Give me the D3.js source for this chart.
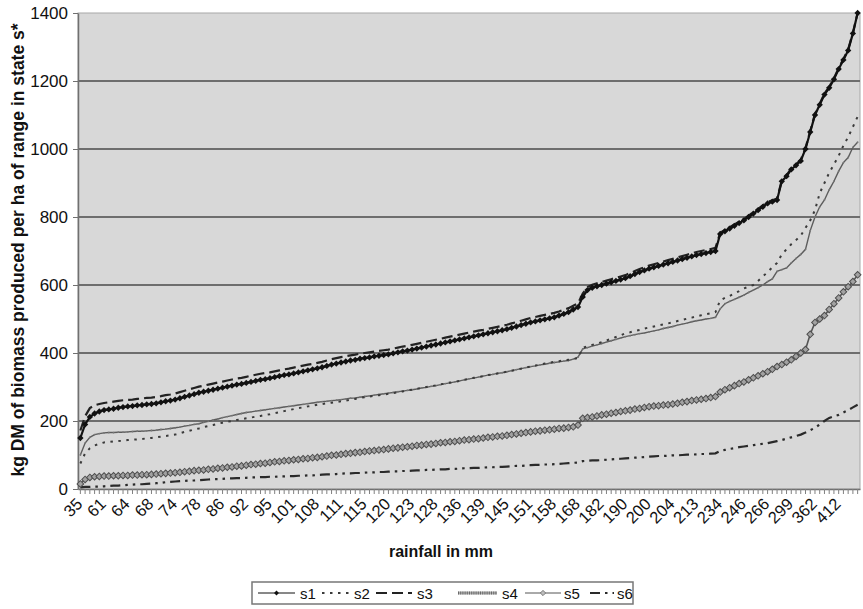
<!DOCTYPE html>
<html>
<head>
<meta charset="utf-8">
<script src="https://cdn.jsdelivr.net/npm/d3@7"></script>
<style>
  body { margin: 0; background: #fff; }
  svg { display: block; }
  text { font-family: "Liberation Sans", Arial, sans-serif; fill: #111; }
</style>
</head>
<body>
<svg id="chart" width="863" height="609"></svg>
<script>
// Rainfall (mm) shown on every 5th category of the sorted rainfall axis
const rainfallLabels = [35, 61, 64, 68, 74, 78, 86, 92, 95, 101, 108, 111, 115, 120, 123, 128,
  136, 139, 145, 151, 158, 168, 182, 190, 200, 204, 213, 234, 246, 266, 299, 362, 412];
const labelEvery = 5;
const yTicks = [0, 200, 400, 600, 800, 1000, 1200, 1400];
const seriesNames = ["s1", "s2", "s3", "s4", "s5", "s6"];

// kg DM of biomass per ha, one value per rainfall category
const s1 = [150,190,212,222,228, 232,234,236,239,241, 243,244,246,247,249, 250,252,255,258,260,
  263,267,271,275,279, 283,286,289,292,295, 298,301,304,307,309, 312,315,318,321,323,
  326,329,332,335,337, 340,343,346,349,352, 355,358,362,366,369, 372,375,378,380,383,
  385,387,390,392,394, 396,399,402,405,407, 410,413,416,419,422, 425,428,431,434,437,
  440,443,446,449,452, 455,458,461,464,467, 470,474,478,482,486, 490,493,496,499,502,
  505,510,515,520,528, 535,565,585,592,596, 600,604,608,612,616, 620,626,632,638,643,
  648,652,656,660,664, 668,672,676,680,684, 688,691,694,697,700, 750,758,766,774,782,
  790,800,810,820,830, 840,845,850,905,920, 940,952,965,1000,1050, 1100,1130,1160,1180,1205,
  1235,1262,1290,1340,1400];
const s2 = [75,105,120,128,133, 137,138,140,141,142, 144,145,146,147,149, 150,152,154,156,158,
  160,164,168,171,175, 178,182,185,188,192, 195,198,200,203,205, 208,210,213,215,218,
  220,223,226,229,232, 235,238,240,243,245, 248,250,252,254,256, 258,260,263,265,268,
  270,272,274,276,278, 280,282,285,287,290, 292,295,297,300,302, 305,308,310,313,315,
  318,321,324,327,329, 332,335,337,340,342, 345,348,351,354,357, 360,363,366,369,371,
  374,376,378,380,382, 385,415,420,424,428, 432,437,442,447,452, 458,461,465,468,472,
  475,478,481,484,487, 490,494,497,501,504, 508,511,514,517,520, 555,562,568,575,582,
  590,595,600,612,625, 638,652,665,690,705, 720,732,745,768,790, 820,870,900,930,955,
  980,1010,1035,1065,1095];
const s3 = [172,214,238,246,250, 253,255,257,259,261, 262,263,265,266,268, 269,271,273,276,278,
  281,285,289,293,297, 301,304,307,310,313, 316,319,322,325,327, 330,333,336,339,341,
  343,346,349,352,354, 357,360,363,366,368, 371,374,378,382,385, 388,391,393,395,398,
  400,402,404,406,408, 410,413,416,419,421, 424,427,430,433,436, 439,442,445,448,451,
  454,457,460,463,466, 468,471,474,477,480, 483,487,491,495,499, 503,506,509,512,515,
  518,522,527,532,539, 546,575,594,601,605, 609,613,617,621,625, 629,635,641,647,652,
  657,661,665,669,673, 677,681,685,689,693, 697,700,703,706,709, 754,762,770,778,786,
  794,804,814,824,834, 844,849,854,908,923, 943,955,968,1003,1053, 1103,1133,1163,1183,1208,
  1238,1265,1293,1342,1400];
const s4 = [100,135,152,160,163, 165,166,166,167,167, 168,169,170,170,171, 172,173,175,176,178,
  180,182,185,187,190, 192,196,199,203,206, 210,213,216,219,222, 225,227,229,231,233,
  235,237,239,241,243, 245,247,249,251,253, 255,257,258,260,261, 263,265,267,268,270,
  272,274,276,278,280, 282,284,286,288,290, 292,294,297,299,302, 304,307,310,312,315,
  318,321,324,326,329, 332,335,337,340,342, 345,348,351,354,357, 360,362,365,367,370,
  372,374,376,378,382, 388,412,416,420,424, 428,432,436,440,444, 448,451,454,457,459,
  462,465,468,472,475, 478,482,485,488,492, 495,497,500,502,505, 530,545,552,558,564,
  570,578,585,592,600, 610,618,640,645,650, 665,678,690,705,760, 800,830,850,880,905,
  935,960,975,1005,1020];
const s5 = [15,28,34,36,37, 38,38,39,39,40, 40,41,41,42,42, 43,44,45,46,47,
  48,49,51,52,54, 55,56,58,59,61, 62,64,65,67,68, 70,72,73,75,76,
  78,80,81,83,84, 86,87,89,90,92, 93,95,97,99,100, 102,104,105,107,108,
  110,112,113,115,116, 118,120,121,123,124, 126,128,129,131,132, 134,136,137,139,140,
  142,144,145,147,148, 150,152,153,155,156, 158,160,162,164,166, 168,170,171,173,174,
  176,178,179,181,183, 188,208,210,212,215, 218,220,223,225,228, 230,232,235,237,240,
  242,244,245,247,248, 250,252,255,257,260, 262,264,266,269,272, 285,292,298,304,310,
  315,321,327,333,339, 345,352,360,366,373, 380,390,400,410,455, 490,500,510,528,545,
  562,580,595,610,630];
const s6 = [5,6,6,7,7, 8,9,10,10,11, 12,13,14,14,15, 16,17,18,20,21,
  22,23,24,25,25, 26,27,28,29,29, 30,31,31,32,32, 33,34,34,35,35,
  36,36,37,37,38, 38,39,39,40,40, 41,42,43,43,44, 45,46,46,47,47,
  48,49,49,50,50, 51,52,52,53,53, 54,55,55,56,56, 57,58,58,59,59,
  60,61,61,62,62, 63,64,64,65,65, 66,67,68,68,69, 70,71,71,72,72,
  73,74,75,76,77, 78,82,83,84,84, 85,86,87,88,89, 90,91,92,93,94,
  95,96,97,97,98, 99,99,100,101,101, 102,103,103,104,105, 112,115,118,120,123,
  125,127,129,131,133, 135,138,141,144,148, 152,156,160,166,173, 180,190,200,209,214,
  218,225,232,240,248];

const svg = d3.select("#chart");
const plot = { left: 78, right: 860, top: 13, bottom: 489 };
const n = s1.length;

const x = d3.scaleBand().domain(d3.range(n)).range([plot.left, plot.right]);
const y = d3.scaleLinear().domain([0, 1400]).range([plot.bottom, plot.top]);
const cx = i => x(i) + x.bandwidth() / 2;

// plot area background and frame
svg.append("rect")
  .attr("x", plot.left).attr("y", plot.top)
  .attr("width", plot.right - plot.left).attr("height", plot.bottom - plot.top)
  .attr("fill", "#d8d8d8").attr("stroke", "#a8a8a8").attr("stroke-width", 1);

// horizontal gridlines
svg.append("g").selectAll("line")
  .data(yTicks.filter(v => v > 0 && v < 1400))
  .join("line")
  .attr("x1", plot.left).attr("x2", plot.right)
  .attr("y1", d => y(d)).attr("y2", d => y(d))
  .attr("stroke", "#6e6e6e").attr("stroke-width", 2);

// y axis
const yAxis = svg.append("g")
  .attr("transform", `translate(${plot.left},0)`)
  .call(d3.axisLeft(y).tickValues(yTicks).tickFormat(d3.format("d"))
    .tickSize(5).tickSizeOuter(0).tickPadding(5));
yAxis.select(".domain").attr("stroke", "#707070").attr("stroke-width", 1.5);
yAxis.selectAll(".tick line").attr("stroke", "#707070");
yAxis.selectAll("text").attr("font-size", 17).attr("fill", "#111");

// x axis: a tick for every category, labels on every 5th
const xAxis = svg.append("g")
  .attr("transform", `translate(0,${plot.bottom})`)
  .call(d3.axisBottom(x).tickSize(5).tickSizeOuter(0)
    .tickFormat(i => i % labelEvery === 0 ? String(rainfallLabels[i / labelEvery]) : ""));
xAxis.select(".domain").attr("stroke", "#707070").attr("stroke-width", 1.5);
xAxis.selectAll(".tick line").attr("stroke", "#808080");
xAxis.selectAll("text")
  .attr("font-size", 16.5).attr("fill", "#111")
  .attr("text-anchor", "end")
  .attr("x", 0).attr("y", 0).attr("dy", 0)
  .attr("transform", "translate(3,16) rotate(-45)");

// axis titles
svg.append("text")
  .attr("transform", "translate(24,250) rotate(-90)")
  .attr("text-anchor", "middle")
  .attr("font-size", 17.5).attr("font-weight", "bold")
  .text("kg DM of biomass produced per ha of range in state s*");
svg.append("text")
  .attr("x", 441).attr("y", 557)
  .attr("text-anchor", "middle")
  .attr("font-size", 16).attr("font-weight", "bold")
  .text("rainfall in mm");

// series styles
const styles = {
  s1: { stroke: "#111", width: 2.2, dash: null, marker: "fill" },
  s2: { stroke: "#3a3a3a", width: 2, dash: "2.5,5.5", marker: null },
  s3: { stroke: "#222", width: 2.2, dash: "11,5", marker: null },
  s4: { stroke: "#5c5c5c", width: 1.4, dash: null, marker: "tiny" },
  s5: { stroke: "#555", width: 1.6, dash: null, marker: "hollow" },
  s6: { stroke: "#2a2a2a", width: 2.2, dash: "10,5,2.5,5,2.5,5", marker: null }
};
const seriesData = { s1, s2, s3, s4, s5, s6 };
const drawOrder = ["s6", "s5", "s4", "s2", "s3", "s1"];

const line = d3.line().x((d, i) => cx(i)).y(d => y(d));
// diamond marker: a square turned by 45 degrees
const diamond = size => d3.symbol().type(d3.symbolSquare).size(size)();

const gSeries = svg.append("g");
drawOrder.forEach(name => {
  const st = styles[name];
  const vals = seriesData[name];
  gSeries.append("path")
    .datum(vals)
    .attr("d", line)
    .attr("fill", "none")
    .attr("stroke", st.stroke)
    .attr("stroke-width", st.width)
    .attr("stroke-dasharray", st.dash);
  if (st.marker === "fill") {
    gSeries.append("g").selectAll("path").data(vals).join("path")
      .attr("transform", (d, i) => `translate(${cx(i)},${y(d)}) rotate(45)`)
      .attr("d", diamond(20))
      .attr("fill", "#111");
  } else if (st.marker === "hollow") {
    gSeries.append("g").selectAll("path").data(vals).join("path")
      .attr("transform", (d, i) => `translate(${cx(i)},${y(d)}) rotate(45)`)
      .attr("d", diamond(22))
      .attr("fill", "#a2a2a2").attr("stroke", "#4e4e4e").attr("stroke-width", 1);
  } else if (st.marker === "tiny") {
    gSeries.append("g").selectAll("circle").data(vals).join("circle")
      .attr("cx", (d, i) => cx(i)).attr("cy", d => y(d)).attr("r", 0.9)
      .attr("fill", "#777");
  }
});

// legend
const legendItems = [
  { name: "s1", x0: 258, x1: 295, tx: 300 },
  { name: "s2", x0: 322, x1: 350, tx: 354 },
  { name: "s3", x0: 376, x1: 412, tx: 417 },
  { name: "s4", x0: 458, x1: 497, tx: 502 },
  { name: "s5", x0: 525, x1: 561, tx: 564 },
  { name: "s6", x0: 590, x1: 614, tx: 617 }
];
const legend = svg.append("g");
legend.append("rect")
  .attr("x", 252).attr("y", 582).attr("width", 381).attr("height", 22)
  .attr("fill", "#fff").attr("stroke", "#777").attr("stroke-width", 1.5);
const ly = 593;
legendItems.forEach(it => {
  const st = styles[it.name];
  if (it.name === "s4") {
    legend.append("line")
      .attr("x1", it.x0).attr("x2", it.x1).attr("y1", ly).attr("y2", ly)
      .attr("stroke", "#b0b0b0").attr("stroke-width", 3);
    legend.append("line")
      .attr("x1", it.x0).attr("x2", it.x1).attr("y1", ly).attr("y2", ly)
      .attr("stroke", "#6a6a6a").attr("stroke-width", 3).attr("stroke-dasharray", "1,1.2");
  } else {
    legend.append("line")
      .attr("x1", it.x0).attr("x2", it.x1).attr("y1", ly).attr("y2", ly)
      .attr("stroke", st.stroke).attr("stroke-width", it.name === "s1" || it.name === "s5" ? 1 : st.width)
      .attr("stroke-dasharray", st.dash);
  }
  if (st.marker === "fill") {
    legend.append("path")
      .attr("transform", `translate(${(it.x0 + it.x1) / 2},${ly}) rotate(45)`)
      .attr("d", diamond(12)).attr("fill", "#111");
  } else if (st.marker === "hollow") {
    legend.append("path")
      .attr("transform", `translate(${(it.x0 + it.x1) / 2},${ly}) rotate(45)`)
      .attr("d", diamond(14))
      .attr("fill", "#bdbdbd").attr("stroke", "#6e6e6e").attr("stroke-width", 0.8);
  }
  legend.append("text")
    .attr("x", it.tx).attr("y", ly + 5.5)
    .attr("font-size", 15)
    .text(it.name);
});
</script>
</body>
</html>
